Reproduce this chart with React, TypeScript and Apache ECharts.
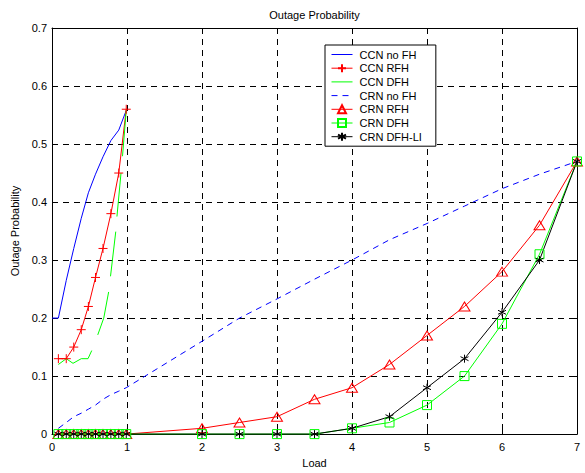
import React, { useEffect, useRef } from "react";
import * as echarts from "echarts";

// ---- data ----
const ccnLoads = [0.085, 0.19, 0.29, 0.39, 0.485, 0.58, 0.68, 0.785, 0.89, 0.99];
const ccnNoFhLoads = [0, 0.085, 0.19, 0.29, 0.39, 0.485, 0.58, 0.68, 0.785, 0.89, 0.99];
const ccnNoFh = [0.2, 0.2, 0.265, 0.32, 0.372, 0.416, 0.448, 0.478, 0.506, 0.524, 0.558];
const ccnRfh = [0.13, 0.13, 0.15, 0.18, 0.22, 0.27, 0.32, 0.38, 0.45, 0.56];
// CCN DFH is drawn as broken pieces in the reference
const ccnDfhSegments: number[][][] = [
  [[0.085, 0.12], [0.19, 0.13], [0.28, 0.122], [0.39, 0.13], [0.48, 0.13], [0.53, 0.144]],
  [[0.61, 0.171], [0.69, 0.2], [0.755, 0.245]],
  [[0.78, 0.272], [0.85, 0.349]],
  [[0.866, 0.375], [0.92, 0.45]],
  [[0.94, 0.479], [0.99, 0.558]],
];
const crnLoads = [0.085, 0.19, 0.29, 0.39, 0.485, 0.58, 0.68, 0.785, 0.89, 0.99, 2, 2.5, 3, 3.5, 4, 4.5, 5, 5.5, 6, 6.5, 7];
const crnNoFh = [0.01, 0.02, 0.03, 0.036, 0.043, 0.05, 0.06, 0.068, 0.074, 0.08, 0.16, 0.2, 0.233, 0.267, 0.3, 0.335, 0.363, 0.393, 0.423, 0.448, 0.47];
const crnRfh = [0, 0, 0, 0, 0, 0, 0, 0, 0, 0, 0.01, 0.02, 0.03, 0.06, 0.08, 0.12, 0.17, 0.22, 0.28, 0.36, 0.47];
const crnDfh = [0, 0, 0, 0, 0, 0, 0, 0, 0, 0, 0, 0, 0, 0, 0.01, 0.02, 0.05, 0.1, 0.19, 0.31, 0.47];
const crnDfhLi = [0, 0, 0, 0, 0, 0, 0, 0, 0, 0, 0, 0, 0, 0, 0.01, 0.03, 0.08, 0.13, 0.21, 0.3, 0.47];

const seriesNames = ["CCN no FH", "CCN RFH", "CCN DFH", "CRN no FH", "CRN RFH", "CRN DFH", "CRN DFH-LI"];
const seriesColors = ["#0000ff", "#ff0000", "#00ff00", "#0000ff", "#ff0000", "#00ff00", "#000000"];
const xTickLabels = ["0", "1", "2", "3", "4", "5", "6", "7"];
const yTickLabels = ["0", "0.1", "0.2", "0.3", "0.4", "0.5", "0.6", "0.7"];
const titleText = "Outage Probability";
const xName = "Load";
const yName = "Outage Probability";

const FONT = "'Liberation Sans', Arial, Helvetica, sans-serif";
const PLUS = "path://M0,5L10,5M5,0L5,10";
const STAR = "path://M5,0L5,10M0.67,2.5L9.33,7.5M0.67,7.5L9.33,2.5";
const CLEAR = "rgba(0,0,0,0)";
const DASH = [6, 5];

const zip = (xs: number[], ys: number[]) => xs.map((x, i) => [x, ys[i]]);

export default function App() {
  const ref = useRef<HTMLDivElement>(null);
  useEffect(() => {
    if (!ref.current) return;
    const chart = echarts.init(ref.current, undefined, { renderer: "svg" });

    const dfhData: any[] = [];
    ccnDfhSegments.forEach((seg, i) => {
      if (i > 0) dfhData.push([seg[0][0], "-"]);
      seg.forEach((p) => dfhData.push(p));
    });

    const plainLine = (name: string, data: any[], color: string, dashed = false) => ({
      name,
      type: "line",
      data,
      symbol: "none",
      showSymbol: false,
      lineStyle: { color, width: 1, type: dashed ? DASH : "solid" },
      itemStyle: { color: CLEAR, borderColor: CLEAR, borderWidth: 0 },
      emphasis: { disabled: true },
      connectNulls: false,
      clip: false,
    });

    const markedLine = (name: string, data: any[], color: string, symbol: string, symbolSize: any) => ({
      name,
      type: "line",
      data,
      symbol,
      symbolSize,
      showSymbol: true,
      lineStyle: { color, width: 1, type: "solid" },
      itemStyle: { color: CLEAR, borderColor: color, borderWidth: 1 },
      emphasis: { disabled: true },
      clip: false,
    });

    const axisCommon = {
      type: "value",
      axisLine: { show: true, onZero: false, lineStyle: { color: "#000", width: 1 } },
      axisTick: { show: true, inside: true, length: 5, lineStyle: { color: "#000" } },
    };

    chart.setOption({
      animation: false,
      backgroundColor: "#fff",
      textStyle: { fontFamily: FONT },
      grid: { left: 52, top: 28, right: 8, bottom: 32, containLabel: false },
      graphic: [
        {
          type: "text",
          x: 314.5,
          y: 15,
          style: { text: titleText, fill: "#000", font: `11px ${FONT}`, align: "center", verticalAlign: "middle" },
        },
      ],
      legend: {
        orient: "vertical",
        left: 325,
        top: 45,
        padding: [4, 14, 4, 6],
        itemGap: 2.7,
        itemWidth: 21,
        itemHeight: 10,
        borderColor: "#000",
        borderWidth: 1,
        backgroundColor: "#fff",
        textStyle: { fontSize: 11, color: "#000", fontFamily: FONT, lineHeight: 10, padding: [0, 0, 0, 2] },
        data: seriesNames.map((name, i) => ({
          name,
          lineStyle: { color: seriesColors[i], width: 1, type: i === 3 ? DASH : "solid" },
        })),
      },
      xAxis: [
        {
          ...axisCommon,
          min: 0,
          max: 7,
          interval: 1,
          position: "bottom",
          name: xName,
          nameLocation: "middle",
          nameGap: 19,
          nameTextStyle: { fontSize: 11, color: "#000", fontFamily: FONT },
          axisLabel: {
            fontSize: 11,
            color: "#000",
            fontFamily: FONT,
            margin: 7,
            formatter: (v: number) => xTickLabels[Math.round(v)] ?? "",
          },
          splitLine: { show: true, lineStyle: { color: "#000", width: 1, type: DASH } },
        },
        {
          ...axisCommon,
          min: 0,
          max: 7,
          interval: 1,
          position: "top",
          axisLabel: { show: false },
          splitLine: { show: false },
        },
      ],
      yAxis: [
        {
          ...axisCommon,
          min: 0,
          max: 0.7,
          interval: 0.1,
          position: "left",
          name: yName,
          nameLocation: "middle",
          nameGap: 24,
          nameTextStyle: { fontSize: 11, color: "#000", fontFamily: FONT },
          axisLabel: {
            fontSize: 11,
            color: "#000",
            fontFamily: FONT,
            margin: 5,
            formatter: (v: number) => yTickLabels[Math.round(v * 10)] ?? "",
          },
          splitLine: { show: true, lineStyle: { color: "#000", width: 1, type: DASH } },
        },
        {
          ...axisCommon,
          min: 0,
          max: 0.7,
          interval: 0.1,
          position: "right",
          axisLabel: { show: false },
          splitLine: { show: false },
        },
      ],
      series: [
        plainLine(seriesNames[0], zip(ccnNoFhLoads, ccnNoFh), seriesColors[0]),
        markedLine(seriesNames[1], zip(ccnLoads, ccnRfh), seriesColors[1], PLUS, 9),
        plainLine(seriesNames[2], dfhData, seriesColors[2]),
        plainLine(seriesNames[3], zip(crnLoads, crnNoFh), seriesColors[3], true),
        markedLine(seriesNames[4], zip(crnLoads, crnRfh), seriesColors[4], "triangle", [11, 9]),
        markedLine(seriesNames[5], zip(crnLoads, crnDfh), seriesColors[5], "rect", 9),
        markedLine(seriesNames[6], zip(crnLoads, crnDfhLi), seriesColors[6], STAR, 8),
      ],
    });
    return () => chart.dispose();
  }, []);
  return (
    <div
      ref={ref}
      style={{ position: "absolute", left: 0, top: 0, width: 585, height: 473, background: "#fff" }}
    />
  );
}
